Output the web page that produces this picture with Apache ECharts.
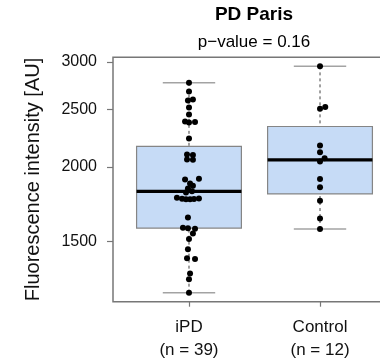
<!DOCTYPE html>
<html><head><meta charset="utf-8">
<script src="https://cdn.jsdelivr.net/npm/echarts@6/dist/echarts.min.js"></script>
<style>html,body{margin:0;padding:0;background:#fff}#c{width:380px;height:363px}</style>
</head><body><div id="c"></div>
<script>
const categories = ['iPD', 'Control'];
const ipdValues = [2768, 2678, 2596, 2586, 2517, 2450, 2384, 2380, 2375, 2232,
  2098, 2094, 2058, 2055, 1911, 1904, 1875, 1860, 1839, 1820, 1812,
  1775, 1768, 1765, 1765, 1766, 1770, 1645, 1580, 1577, 1575, 1546,
  1513, 1455, 1405, 1401, 1324, 1296, 1230];
const ipdJitter = [0, 0, 0.03, -0.008, 0, 0, -0.03, 0.046, 0, 0,
  -0.015, 0.03, -0.015, 0.03, 0.076, -0.03, 0.008, 0.03, -0.008, 0.023, -0.023,
  -0.092, -0.053, -0.023, 0.008, 0.038, 0.076, -0.008, -0.046, -0.008, 0.046, 0.03,
  0, -0.008, -0.015, 0.046, 0.008, 0, 0];
const controlValues = [2950, 2520, 2504, 2172, 2117, 2068, 2042, 1909, 1848, 1755, 1639, 1573];
const controlJitter = [0, 0.04, 0, 0, 0, 0.035, 0, 0, 0, 0, 0, 0];
const yTicks = [1500, 2000, 2500, 3000];
const titleText = 'PD Paris';
const subtitleText = 'p\u2212value = 0.16';
const yAxisName = 'Fluorescence intensity [AU]';

const groups = [ipdValues, controlValues];
const jitters = [ipdJitter, controlJitter];

function fivenum(arr) {
  const x = arr.slice().sort((a, b) => a - b);
  const n = x.length;
  const n4 = Math.floor((n + 3) / 2) / 2;
  const d = [1, n4, (n + 1) / 2, n + 1 - n4, n];
  return d.map(v => 0.5 * (x[Math.floor(v) - 1] + x[Math.ceil(v) - 1]));
}
function boxStats(arr) {
  const f = fivenum(arr);
  const iqr = f[3] - f[1];
  const inside = arr.filter(v => v >= f[1] - 1.5 * iqr && v <= f[3] + 1.5 * iqr);
  return [Math.min(...inside), f[1], f[2], f[3], Math.max(...inside)];
}

const boxData = groups.map((g, i) => [i + 1].concat(boxStats(g).map(Math.log)));
const pointData = [];
groups.forEach((g, i) => g.forEach((v, j) => pointData.push([i + 1 + jitters[i][j], Math.log(v)])));

const all = ipdValues.concat(controlValues);
const lo = Math.log(Math.min(...all)), hi = Math.log(Math.max(...all));
const ext = 0.04 * (hi - lo);

const FONT = 'Liberation Sans';
const chart = echarts.init(document.getElementById('c'), null, {renderer: 'canvas'});
chart.setOption({
  animation: false,
  backgroundColor: '#fff',
  grid: {left: 113, top: 57.3, width: 283, height: 244.4, show: true,
    outerBoundsMode: 'none', containLabel: false,
    borderColor: '#777', borderWidth: 1.5, backgroundColor: 'transparent'},
  graphic: [
    {type: 'text', x: 254, y: 15, style: {text: titleText, fontFamily: FONT, fontSize: 19,
      fontWeight: 'bold', fill: '#000', textAlign: 'center', textVerticalAlign: 'middle'}},
    {type: 'text', x: 254, y: 42, style: {text: subtitleText, fontFamily: FONT, fontSize: 17,
      fill: '#000', textAlign: 'center', textVerticalAlign: 'middle'}}
  ],
  xAxis: {
    type: 'value', min: 0.42, max: 2.58,
    axisLine: {show: false}, splitLine: {show: false},
    axisTick: {show: true, customValues: [1, 2], length: 5, lineStyle: {color: '#777', width: 1.2}},
    axisLabel: {customValues: [1, 2], margin: 14, fontFamily: FONT, fontSize: 17, color: '#111',
      lineHeight: 23,
      formatter: v => categories[Math.round(v) - 1] + '\n(n = ' + groups[Math.round(v) - 1].length + ')'}
  },
  yAxis: {
    type: 'value', min: lo - ext, max: hi + ext,
    axisLine: {show: false}, splitLine: {show: false},
    axisTick: {show: true, customValues: yTicks.map(Math.log), length: 6, lineStyle: {color: '#777', width: 1.2}},
    axisLabel: {customValues: yTicks.map(Math.log), margin: 16, fontFamily: FONT, fontSize: 16, color: '#111',
      formatter: v => String(Math.round(Math.exp(v)))},
    name: yAxisName, nameLocation: 'middle', nameRotate: 90, nameGap: 70,
    nameTextStyle: {fontFamily: FONT, fontSize: 20, color: '#111'}
  },
  series: [
    {
      type: 'custom',
      data: boxData,
      encode: {x: 0, y: [1, 2, 3, 4, 5]},
      z: 2,
      renderItem: function (params, api) {
        const x = api.value(0);
        const pMin = api.coord([x, api.value(1)]);
        const pQ1 = api.coord([x, api.value(2)]);
        const pMed = api.coord([x, api.value(3)]);
        const pQ3 = api.coord([x, api.value(4)]);
        const pMax = api.coord([x, api.value(5)]);
        const bl = api.coord([x - 0.4, api.value(3)])[0];
        const br = api.coord([x + 0.4, api.value(3)])[0];
        const cl = api.coord([x - 0.2, api.value(3)])[0];
        const cr = api.coord([x + 0.2, api.value(3)])[0];
        const wStyle = {stroke: '#444', lineWidth: 1, lineDash: [3, 3]};
        const cStyle = {stroke: '#a3a3a3', lineWidth: 1.5};
        return {type: 'group', children: [
          {type: 'line', shape: {x1: pMax[0], y1: pMax[1], x2: pQ3[0], y2: pQ3[1]}, style: wStyle},
          {type: 'line', shape: {x1: pMin[0], y1: pMin[1], x2: pQ1[0], y2: pQ1[1]}, style: wStyle},
          {type: 'line', shape: {x1: cl, y1: pMax[1], x2: cr, y2: pMax[1]}, style: cStyle},
          {type: 'line', shape: {x1: cl, y1: pMin[1], x2: cr, y2: pMin[1]}, style: cStyle},
          {type: 'rect', shape: {x: bl, y: pQ3[1], width: br - bl, height: pQ1[1] - pQ3[1]},
            style: {fill: '#c6dbf6', stroke: '#858585', lineWidth: 1.2}},
          {type: 'line', shape: {x1: bl, y1: pMed[1], x2: br, y2: pMed[1]}, style: {stroke: '#000', lineWidth: 3.2}}
        ]};
      }
    },
    {
      type: 'scatter',
      data: pointData,
      symbol: 'circle',
      symbolSize: 6,
      z: 3,
      itemStyle: {color: '#000', opacity: 1}
    }
  ]
});
</script>
</body></html>
